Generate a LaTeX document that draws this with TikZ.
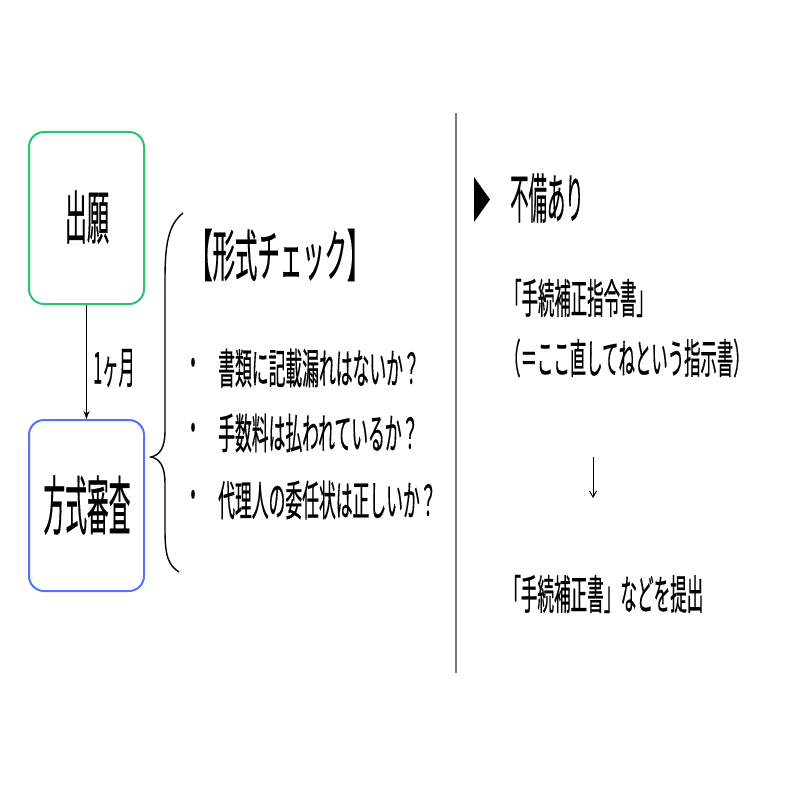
\documentclass[tikz,border=0pt]{standalone}
\usepackage{fontspec}
\usepackage{graphicx}
\newfontfamily\jp[FakeBold=0.6]{Noto Sans CJK JP}
\usetikzlibrary{arrows.meta}
\definecolor{boxgreen}{RGB}{40,195,110}
\definecolor{boxblue}{RGB}{85,115,245}
\definecolor{divgray}{RGB}{120,120,120}
\newcommand{\sx}[2]{\scalebox{#1}[1]{#2}}
\tikzset{
  stage/.style={draw, line width=2pt, rounded corners=15pt, minimum width=115pt, inner sep=0pt},
  txt/.style={inner sep=0pt, anchor=west, font=\jp},
  flow/.style={-{Stealth[length=8pt,width=6pt]}, line width=1.2pt},
}
\begin{document}
\begin{tikzpicture}[x=1pt,y=-1pt]
\useasboundingbox (0,0) rectangle (794,794);
% stage boxes
\node[stage, draw=boxgreen, minimum height=172pt] (apply) at (86.5,218) {};
\node[inner sep=0pt, font=\jp\fontsize{58}{60}\selectfont] (applyt) at (87,217) {\sx{0.38}{出願}};
\node[stage, draw=boxblue, minimum height=171pt] (exam) at (86.5,505.5) {};
\node[inner sep=0pt, font=\jp\fontsize{64}{66}\selectfont] (examt) at (87,505) {\sx{0.34}{方式審査}};
\draw[flow] (apply.south) -- (exam.north);
\node[txt, font=\jp\fontsize{44}{46}\selectfont] (month) at (93,368) {\sx{0.37}{1ヶ月}};
% brace
\draw[line width=1.4pt] (183,213) .. controls (168,225) and (165,245) .. (165,280) -- (165,430)
  .. controls (165,448) and (160,455) .. (151,457)
  .. controls (160,459) and (165,466) .. (165,484) -- (165,530)
  .. controls (165,555) and (168,565) .. (179,572);
% check title and items
\node[txt, font=\jp\fontsize{56}{58}\selectfont] (title) at (190,255) {\sx{0.4}{【形式チェック】}};
\foreach \y/\t [count=\i] in {368/書類に記載漏れはないか？, 433/手数料は払われているか？, 500/代理人の委任状は正しいか？}{
  \node[inner sep=0pt, font=\jp\fontsize{42}{44}\selectfont] (dot\i) at (193,\y) {\sx{0.4}{・}};
  \node[txt, font=\jp\fontsize{42}{44}\selectfont] (item\i) at (218,\y) {\sx{0.40}{\t}};
}
% divider
\draw[divgray, line width=1.5pt] (456,113) -- (456,673);
% right side
\fill (474,177) -- (490,199.5) -- (474,222) -- cycle;
\node[txt, font=\jp\fontsize{54}{56}\selectfont] (defect) at (510,198) {\sx{0.34}{不備あり}};
\node[txt, font=\jp\fontsize{41}{43}\selectfont] (order) at (505,298) {\sx{0.40}{「手続補正指令書」}};
\node[txt, font=\jp\fontsize{41}{43}\selectfont] (note) at (504,358) {\sx{0.40}{（＝ここ直してねという指示書）}};
\coordinate (a1) at (593,457);
\coordinate (a2) at (593,498);
\draw[-{Straight Barb[length=6pt,width=7pt]}, line width=1pt] (a1) -- (a2);
\node[txt, font=\jp\fontsize{41}{43}\selectfont] (submit) at (504,594) {\sx{0.405}{「手続補正書」などを提出}};
\end{tikzpicture}
\end{document}
